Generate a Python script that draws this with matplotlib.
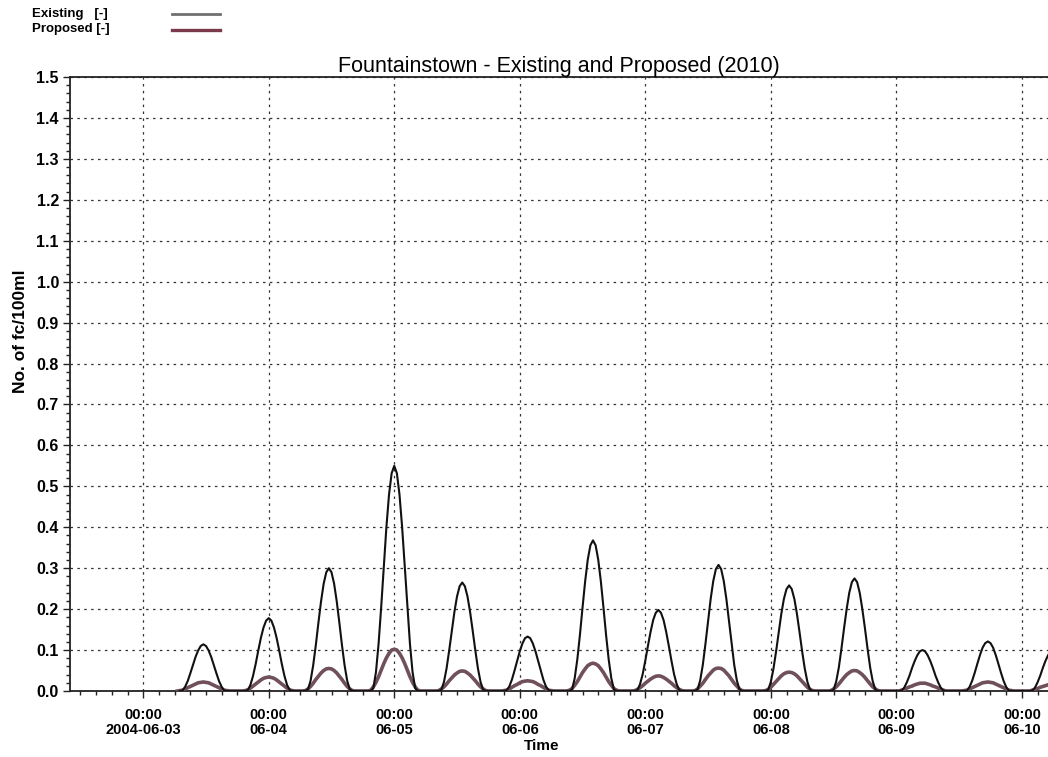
import numpy as np
import pandas as pd
import matplotlib
matplotlib.use('Agg')
import matplotlib.pyplot as plt
import matplotlib.dates as mdates
from matplotlib.ticker import MultipleLocator, FormatStrFormatter

# tide peaks, each read as half-hourly values centred on the peak time
peak_times = ['2004-06-03 11:30', '2004-06-04 00:00', '2004-06-04 11:30', '2004-06-05 00:00',
              '2004-06-05 13:00', '2004-06-06 01:30', '2004-06-06 14:00', '2004-06-07 02:30',
              '2004-06-07 14:00', '2004-06-08 03:30', '2004-06-08 16:00', '2004-06-09 05:00',
              '2004-06-09 17:30', '2004-06-10 06:00']

existing_segs = [
    [0, .001, .010, .024, .043, .063, .083, .099, .110, .114, .110, .099, .083, .063, .043, .024, .010, .001, 0],
    [0, .002, .015, .037, .066, .099, .130, .155, .172, .178, .172, .155, .130, .099, .066, .037, .015, .002, 0],
    [0, .004, .025, .063, .112, .167, .219, .262, .290, .300, .290, .262, .219, .167, .112, .063, .025, .004, 0],
    [0, .007, .046, .115, .205, .305, .401, .480, .532, .550, .532, .480, .401, .305, .205, .115, .046, .007, 0],
    [0, .003, .022, .055, .099, .147, .193, .231, .256, .265, .256, .231, .193, .147, .099, .055, .022, .003, 0],
    [0, .002, .011, .028, .050, .074, .097, .116, .129, .133, .129, .116, .097, .074, .050, .028, .011, .002, 0],
    [0, .004, .031, .077, .137, .204, .268, .321, .356, .368, .356, .321, .268, .204, .137, .077, .031, .004, 0],
    [0, .002, .017, .041, .074, .110, .144, .173, .191, .198, .191, .173, .144, .110, .074, .041, .017, .002, 0],
    [0, .004, .026, .064, .115, .171, .225, .269, .298, .308, .298, .269, .225, .171, .115, .064, .026, .004, 0],
    [0, .003, .022, .054, .096, .143, .188, .225, .249, .258, .249, .225, .188, .143, .096, .054, .022, .003, 0],
    [0, .003, .023, .057, .103, .153, .200, .240, .266, .275, .266, .240, .200, .153, .103, .057, .023, .003, 0],
    [0, .001, .008, .021, .037, .056, .073, .087, .097, .100, .097, .087, .073, .056, .037, .021, .008, .001, 0],
    [0, .001, .010, .025, .045, .067, .088, .106, .117, .121, .117, .106, .088, .067, .045, .025, .010, .001, 0],
    [0, .001, .008, .021, .037, .056, .073, .087, .097, .100, .097, .087, .073, .056, .037, .021, .008, .001, 0],
]

proposed_segs = [
    [0, .001, .002, .005, .008, .011, .014, .017, .020, .021, .022, .021, .020, .017, .014, .011, .008, .005, .002, .001, 0],
    [0, .001, .003, .007, .012, .017, .022, .027, .031, .033, .034, .033, .031, .027, .022, .017, .012, .007, .003, .001, 0],
    [0, .001, .005, .011, .019, .028, .036, .044, .050, .054, .055, .054, .050, .044, .036, .028, .019, .011, .005, .001, 0],
    [0, .002, .010, .021, .035, .051, .067, .081, .092, .100, .102, .100, .092, .081, .067, .051, .035, .021, .010, .002, 0],
    [0, .001, .005, .010, .017, .025, .032, .039, .044, .048, .049, .048, .044, .039, .032, .025, .017, .010, .005, .001, 0],
    [0, .001, .002, .005, .009, .013, .016, .020, .023, .024, .025, .024, .023, .020, .016, .013, .009, .005, .002, .001, 0],
    [0, .002, .006, .014, .023, .034, .045, .054, .062, .066, .068, .066, .062, .054, .045, .034, .023, .014, .006, .002, 0],
    [0, .001, .004, .008, .013, .019, .024, .029, .033, .036, .037, .036, .033, .029, .024, .019, .013, .008, .004, .001, 0],
    [0, .001, .005, .012, .019, .028, .037, .044, .051, .055, .056, .055, .051, .044, .037, .028, .019, .012, .005, .001, 0],
    [0, .001, .004, .009, .016, .023, .030, .037, .042, .045, .046, .045, .042, .037, .030, .023, .016, .009, .004, .001, 0],
    [0, .001, .005, .010, .017, .025, .033, .040, .045, .049, .050, .049, .045, .040, .033, .025, .017, .010, .005, .001, 0],
    [0, 0, .002, .004, .007, .010, .012, .015, .017, .019, .019, .019, .017, .015, .012, .010, .007, .004, .002, 0, 0],
    [0, .001, .002, .005, .008, .011, .014, .017, .020, .021, .022, .021, .020, .017, .014, .011, .008, .005, .002, .001, 0],
    [0, 0, .002, .004, .006, .009, .011, .013, .015, .017, .017, .017, .015, .013, .011, .009, .006, .004, .002, 0, 0],
]

day_ticks = ['2004-06-03', '2004-06-04', '2004-06-05', '2004-06-06',
             '2004-06-07', '2004-06-08', '2004-06-09', '2004-06-10']
day_labels = ['00:00\n2004-06-03', '00:00\n06-04', '00:00\n06-05', '00:00\n06-06',
              '00:00\n06-07', '00:00\n06-08', '00:00\n06-09', '00:00\n06-10']


def to_series(segs):
    step = pd.Timedelta('30min')
    t, v = [], []
    for pt, seg in zip(peak_times, segs):
        c = len(seg) // 2
        t += [pd.Timestamp(pt) + (k - c) * step for k in range(len(seg))]
        v += seg
    return t, v


t_ex, v_ex = to_series(existing_segs)
t_pr, v_pr = to_series(proposed_segs)

fonts = ['Liberation Sans Narrow', 'Liberation Sans', 'DejaVu Sans']
plt.rcParams['font.family'] = fonts

fig = plt.figure(figsize=(10.48, 7.57), dpi=100)
ax = fig.add_axes([0.0668, 0.0872, 0.9332, 0.811])

ax.plot(t_pr, v_pr, color='#70505a', lw=2.6, zorder=3)
ax.plot(t_ex, v_ex, color='#111111', lw=1.5, zorder=4)

ax.set_xlim(pd.Timestamp('2004-06-02 10:00'), pd.Timestamp('2004-06-10 05:00'))
ax.set_ylim(0, 1.5)

ax.set_xticks(pd.to_datetime(day_ticks))
ax.set_xticklabels(day_labels, fontsize=10.5, fontweight='bold', linespacing=1.1)
ax.xaxis.set_minor_locator(mdates.HourLocator(byhour=range(0, 24, 3)))
ax.yaxis.set_major_locator(MultipleLocator(0.1))
ax.yaxis.set_minor_locator(MultipleLocator(0.02))
ax.yaxis.set_major_formatter(FormatStrFormatter('%.1f'))
for lab in ax.get_yticklabels():
    lab.set_fontweight('bold')
    lab.set_fontsize(11.5)

ax.tick_params(axis='both', which='major', direction='out', length=5, width=1, color='#222222', pad=3)
ax.tick_params(axis='both', which='minor', direction='out', length=3, width=1, color='#222222')
ax.tick_params(axis='x', which='major', pad=7)

ax.grid(True, which='major', color='#333333', lw=0.9, linestyle=(0, (2, 3.5)))
ax.spines['right'].set_visible(False)
for s in ['left', 'bottom', 'top']:
    ax.spines[s].set_color('#222222')
    ax.spines[s].set_linewidth(1.3)

ax.set_title('Fountainstown - Existing and Proposed (2010)', fontsize=15.5,
             family=['Liberation Sans', 'DejaVu Sans'], pad=4)
ax.set_ylabel('No. of fc/100ml', fontsize=12.5, fontweight='bold')
ax.yaxis.set_label_coords(-0.043, 0.586)
ax.set_xlabel('Time', fontsize=11, fontweight='bold')
ax.xaxis.set_label_coords(0.482, -0.078)

# legend drawn as plain texts and lines in figure coords
fig.text(32 / 1048, 1 - 14 / 757, 'Existing   [-]', fontsize=9.5, fontweight='bold', va='center')
fig.text(32 / 1048, 1 - 29 / 757, 'Proposed [-]', fontsize=9.5, fontweight='bold', va='center')
fig.add_artist(plt.Line2D([172 / 1048, 220 / 1048], [1 - 14 / 757, 1 - 14 / 757],
                          color='#707070', lw=2))
fig.add_artist(plt.Line2D([172 / 1048, 220 / 1048], [1 - 30 / 757, 1 - 30 / 757],
                          color='#7a3a4c', lw=2.4))

fig.savefig('out.png', dpi=100)
